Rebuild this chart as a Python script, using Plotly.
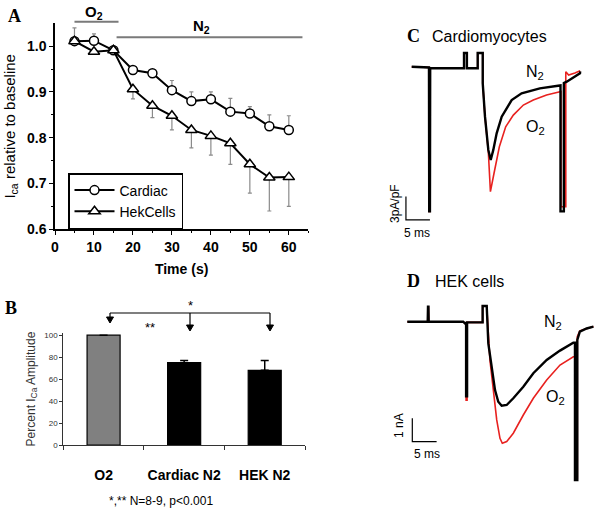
import plotly.graph_objects as go

# ---------------- data ----------------
# Panel A: I_Ca relative to baseline vs time
time_s = [5, 10, 15, 20, 25, 30, 35, 40, 45, 50, 55, 60]
cardiac = [1.011, 1.012, 0.991, 0.948, 0.941, 0.904, 0.880, 0.884, 0.857, 0.853, 0.825, 0.817]
cardiac_err = [0.029, 0.015, 0.005, 0.004, 0.004, 0.021, 0.020, 0.016, 0.029, 0.015, 0.025, 0.031]
hek = [1.011, 0.988, 0.991, 0.906, 0.870, 0.848, 0.817, 0.804, 0.788, 0.742, 0.713, 0.714]
hek_err = [0.004, 0.004, 0.004, 0.021, 0.026, 0.031, 0.039, 0.042, 0.046, 0.063, 0.073, 0.064]

# Panel B: percent I_Ca amplitude
bar_categories = ["O2", "Cardiac N2", "HEK N2"]
bar_values = [100, 75, 68]
bar_err = [0, 2, 9]
bar_colors = ["#808080", "#000000", "#000000"]

# Panel C: cardiomyocyte current traces (ms, pA/pF)
cardio_t_n2 = [0, 3.6, 3.65, 3.8, 3.85, 10.9, 10.9, 11.5, 11.5, 13.75, 13.75, 14.8, 14.8, 15.27, 15.96, 16.46,
               17.0, 17.7, 18.75, 20.83, 22.9, 26.7, 30.5, 31.0, 31.0, 31.7, 31.7, 32.3, 35.06, 35.1]
cardio_i_n2 = [0, -0.1, -18.6, -18.6, -0.2, -0.2, 1.76, 1.76, -0.2, -0.2, 1.76, 1.76, -2.14, -6.43, -10.7, -12.0,
               -10.7, -8.57, -6.43, -4.29, -3.43, -2.79, -2.45, -2.4, -18.6, -18.6, -2.1, -1.93, -0.85, -0.6]
cardio_t_o2 = [0, 3.6, 3.65, 3.8, 3.85, 10.9, 10.9, 11.5, 11.5, 13.75, 13.75, 14.8, 14.8, 15.27, 15.96, 16.4,
               17.15, 18.26, 19.58, 21.17, 23.26, 25.33, 28.1, 30.9, 31.1, 31.1, 32.1, 32.1, 32.7, 34.0, 35.1]
cardio_i_o2 = [0, -0.1, -18.6, -18.6, -0.2, -0.2, 1.76, 1.76, -0.2, -0.2, 1.76, 1.76, -2.14, -6.43, -10.9, -16.07,
               -13.7, -10.3, -7.72, -6.22, -4.93, -4.29, -3.64, -3.2, -3.2, -18.0, -18.0, -0.64, -1.07, -0.81, -0.51]

# Panel D: HEK cell current traces (ms, nA)
hek_t_n2 = [0, 4.2, 4.26, 4.35, 4.4, 11.5, 11.9, 12.1, 12.1, 12.3, 12.3, 15.5, 15.5, 16.34, 16.67, 17.37, 18.05,
            18.72, 19.42, 20.45, 21.81, 23.87, 25.93, 28.68, 31.42, 34.16, 34.5, 34.5, 34.98, 34.98, 35.5, 36.9, 38.3]
hek_i_n2 = [0, 0, 0.64, 0.64, 0, 0, -0.08, -0.03, -3.2, -3.2, -0.03, -0.03, 0.67, 0.67, -0.93, -2.07, -2.93,
            -3.43, -3.6, -3.57, -3.28, -2.79, -2.21, -1.64, -1.24, -0.9, -0.9, -6.79, -6.79, -0.78, -0.43, -0.29, -0.21]
hek_t_o2 = [0, 4.2, 4.26, 4.35, 4.4, 11.5, 11.9, 12.1, 12.1, 12.3, 12.3, 15.5, 15.5, 16.34, 17.0, 17.7, 18.4,
            19.07, 19.55, 20.45, 21.81, 23.87, 25.93, 28.68, 31.42, 34.16, 34.5, 34.5, 34.98, 34.98, 35.5, 38.3]
hek_i_o2 = [0, 0, 0.64, 0.64, 0, 0, -0.08, -0.03, -3.36, -3.36, -0.03, -0.03, 0.67, 0.67, -1.64, -3.07, -4.21,
            -5.0, -5.21, -5.14, -4.78, -4.0, -3.28, -2.5, -1.86, -1.5, -1.5, -6.7, -6.7, -0.64, -0.39, -0.21]

# scale bars
c_scale_ms, c_scale_cur = 5, 3
d_scale_ms, d_scale_cur = 5, 1

# ---------------- layout helpers ----------------
W, H = 602, 523
def fx(px):
    return px / W
def fy(py):
    return 1 - py / H

FONT = "Liberation Sans, Arial, sans-serif"
SERIF = "Liberation Serif, Times New Roman, serif"
NARROW = "Liberation Sans Narrow, Arial Narrow, Liberation Sans, Arial, sans-serif"

fig = go.Figure()

# ---- Panel A ----
fig.add_trace(go.Scatter(
    x=time_s, y=cardiac, mode="lines+markers", name="Cardiac",
    line=dict(color="black", width=2),
    marker=dict(symbol="circle", size=9, color="white", line=dict(color="black", width=1.5)),
    error_y=dict(type="data", symmetric=False, array=cardiac_err, arrayminus=[0] * len(cardiac_err),
                 color="#8a8a8a", thickness=1.2, width=2),
    xaxis="x", yaxis="y"))
fig.add_trace(go.Scatter(
    x=time_s, y=hek, mode="lines+markers", name="HekCells",
    line=dict(color="black", width=2),
    marker=dict(symbol="triangle-up", size=10, color="white", line=dict(color="black", width=1.5)),
    error_y=dict(type="data", symmetric=False, array=[0] * len(hek_err), arrayminus=hek_err,
                 color="#8a8a8a", thickness=1.2, width=2),
    xaxis="x", yaxis="y"))

# ---- Panel B ----
fig.add_trace(go.Bar(
    x=bar_categories, y=bar_values, width=0.41,
    marker=dict(color=bar_colors, line=dict(color="black", width=1.2)),
    error_y=dict(type="data", symmetric=False, array=bar_err, arrayminus=[0] * len(bar_err),
                 color="black", thickness=1.5, width=4),
    showlegend=False, xaxis="x2", yaxis="y2"))

# ---- Panel C ----
fig.add_trace(go.Scatter(x=cardio_t_o2, y=cardio_i_o2, mode="lines", line=dict(color="#e8211f", width=1.6),
                         showlegend=False, xaxis="x3", yaxis="y3"))
fig.add_trace(go.Scatter(x=cardio_t_n2, y=cardio_i_n2, mode="lines", line=dict(color="black", width=2.4),
                         showlegend=False, xaxis="x3", yaxis="y3"))

# ---- Panel D ----
fig.add_trace(go.Scatter(x=hek_t_o2, y=hek_i_o2, mode="lines", line=dict(color="#e8211f", width=1.6),
                         showlegend=False, xaxis="x4", yaxis="y4"))
fig.add_trace(go.Scatter(x=hek_t_n2, y=hek_i_n2, mode="lines", line=dict(color="black", width=2.4),
                         showlegend=False, xaxis="x4", yaxis="y4"))

hidden = dict(visible=False, automargin=False)

# axis ranges for the trace panels, derived from scale-bar calibration
c_x0 = (400 - 411.7) * 5 / 24.0
c_x1 = (600 - 411.7) * 5 / 24.0
c_y0 = -(240 - 66.7) * 3 / 23.33
c_y1 = -(20 - 66.7) * 3 / 23.33
d_x0 = (395 - 407.3) * 5 / 24.3
d_x1 = (600 - 407.3) * 5 / 24.3
d_y0 = -(520 - 321.7) / 23.33
d_y1 = -(270 - 321.7) / 23.33

fig.update_layout(
    width=W, height=H, margin=dict(l=0, r=0, t=0, b=0, autoexpand=False),
    paper_bgcolor="white", plot_bgcolor="rgba(0,0,0,0)",
    font=dict(family=FONT, color="black"),
    xaxis=dict(domain=[fx(55), fx(308.3)], range=[0, 65], anchor="y", automargin=False,
               showline=True, linecolor="black", linewidth=1.5, showgrid=False, zeroline=False,
               tickmode="array", tickvals=[0, 10, 20, 30, 40, 50, 60], ticks="outside", ticklen=4,
               tickwidth=1, tickcolor="black",
               minor=dict(tickvals=[5, 15, 25, 35, 45, 55, 65], ticks="outside", ticklen=2, tickcolor="black"),
               tickfont=dict(size=14, family=FONT, weight="bold"),
               title=dict(text="<b>Time (s)</b>", font=dict(size=14), standoff=10)),
    yaxis=dict(domain=[fy(229.3), fy(23.3)], range=[0.6, 1.05], anchor="x", automargin=False,
               showline=True, linecolor="black", linewidth=1.5, showgrid=False, zeroline=False,
               tickmode="array", tickvals=[0.6, 0.7, 0.8, 0.9, 1.0], ticktext=["0.6", "0.7", "0.8", "0.9", "1.0"],
               ticks="outside", ticklen=4, tickcolor="black",
               minor=dict(tickvals=[0.65, 0.75, 0.85, 0.95], ticks="outside", ticklen=2, tickcolor="black"),
               tickfont=dict(size=14, family=FONT, weight="bold"),
               title=dict(text="I<sub>ca</sub> relative to baseline", font=dict(size=15), standoff=8)),
    xaxis2=dict(domain=[fx(63.3), fx(305)], anchor="y2", type="category", automargin=False,
                showline=True, linecolor="#333", linewidth=1, showgrid=False, tickangle=0,
                ticks="outside", tickson="boundaries", ticklen=4, tickcolor="#333",
                tickfont=dict(size=14, family=NARROW, weight="bold"), ticklabelstandoff=17),
    yaxis2=dict(domain=[fy(445), fy(333)], range=[0, 102], anchor="x2", automargin=False,
                showline=True, linecolor="#333", linewidth=1, showgrid=False, zeroline=False,
                tickvals=[0, 20, 40, 60, 80, 100], ticks="outside", ticklen=3, tickcolor="#333",
                tickfont=dict(size=8, family=NARROW, color="#333"),
                title=dict(text="Percent I<sub>Ca</sub> Amplitude", font=dict(size=12, color="#333"), standoff=6)),
    xaxis3=dict(domain=[fx(400), fx(600)], range=[c_x0, c_x1], anchor="y3", **hidden),
    yaxis3=dict(domain=[fy(240), fy(20)], range=[c_y0, c_y1], anchor="x3", **hidden),
    xaxis4=dict(domain=[fx(395), fx(600)], range=[d_x0, d_x1], anchor="y4", **hidden),
    yaxis4=dict(domain=[fy(520), fy(270)], range=[d_y0, d_y1], anchor="x4", **hidden),
    legend=dict(x=fx(68), y=fy(173), xanchor="left", yanchor="top",
                bordercolor="black", borderwidth=1.5, bgcolor="white",
                font=dict(size=14, family=FONT), itemwidth=40, tracegroupgap=0),
)

shapes = []
# Panel A condition bars
shapes.append(dict(type="line", xref="x", yref="paper", x0=5, x1=16.3, y0=fy(21.7), y1=fy(21.7),
                   line=dict(color="#7a7a7a", width=2)))
shapes.append(dict(type="line", xref="x", yref="paper", x0=15.8, x1=63.5, y0=fy(37.3), y1=fy(37.3),
                   line=dict(color="#7a7a7a", width=2)))
# Panel B bracket with downward arrows
shapes.append(dict(type="line", xref="paper", yref="paper", x0=fx(110), x1=fx(270), y0=fy(313), y1=fy(313),
                   line=dict(color="black", width=1.2)))
for hx, hy in [(110, 323), (190, 331), (270, 331)]:
    shapes.append(dict(type="line", xref="paper", yref="paper", x0=fx(hx), x1=fx(hx), y0=fy(313), y1=fy(hy - 4),
                       line=dict(color="black", width=1.2)))
    shapes.append(dict(type="path", xref="paper", yref="paper",
                       path=f"M {fx(hx - 3.5)} {fy(hy - 6)} L {fx(hx + 3.5)} {fy(hy - 6)} L {fx(hx)} {fy(hy)} Z",
                       fillcolor="black", line=dict(color="black", width=1)))
# scale bars C
shapes.append(dict(type="path", xref="x3", yref="y3",
                   path=f"M {-1.2} {-19.7 + c_scale_cur} L {-1.2} {-19.7} L {-1.2 + c_scale_ms} {-19.7}",
                   line=dict(color="black", width=1.2)))
# scale bars D
shapes.append(dict(type="path", xref="x4", yref="y4",
                   path=f"M {1.03} {-5.14 + d_scale_cur} L {1.03} {-5.14} L {1.03 + d_scale_ms} {-5.14}",
                   line=dict(color="black", width=1.2)))

ann = []
def text(px, py, s, size=14, family=FONT, angle=0, color="black", xanchor="center"):
    ann.append(dict(x=fx(px), y=fy(py), xref="paper", yref="paper", text=s, showarrow=False,
                    font=dict(size=size, family=family, color=color), textangle=angle,
                    xanchor=xanchor, yanchor="middle"))

# panel letters
text(14, 16, "<b>A</b>", size=18, family=SERIF)
text(11, 308, "<b>B</b>", size=18, family=SERIF)
text(413, 36, "<b>C</b>", size=18, family=SERIF)
text(413, 281, "<b>D</b>", size=18, family=SERIF)

# Panel A labels
text(94, 12, "<b>O<sub>2</sub></b>", size=15)
text(201, 27, "<b>N<sub>2</sub></b>", size=15)

# Panel B annotations
text(190, 305, "*", size=13)
text(150, 327, "**", size=13)
text(161, 501, "*,** N=8-9, p<0.001", size=12)

# Panel C labels
text(430, 36, "Cardiomyocytes", size=16, xanchor="left")
text(535, 72, "N<sub>2</sub>", size=16)
text(535, 127, "O<sub>2</sub>", size=16)
text(395, 204, "3pA/pF", size=12, angle=-90)
text(417, 233, "5 ms", size=12)

# Panel D labels
text(433, 281, "HEK cells", size=16, xanchor="left")
text(553, 322, "N<sub>2</sub>", size=16)
text(555, 397, "O<sub>2</sub>", size=16)
text(399, 426, "1 nA", size=12, angle=-90)
text(427, 454, "5 ms", size=12)

fig.update_layout(shapes=shapes, annotations=ann)
# remove the default 8px page margin so the 602x523 figure fills the window exactly
fig.write_html("out.html", config={"displayModeBar": False},
               post_script="document.body.style.margin='0';document.body.style.overflow='hidden';")
